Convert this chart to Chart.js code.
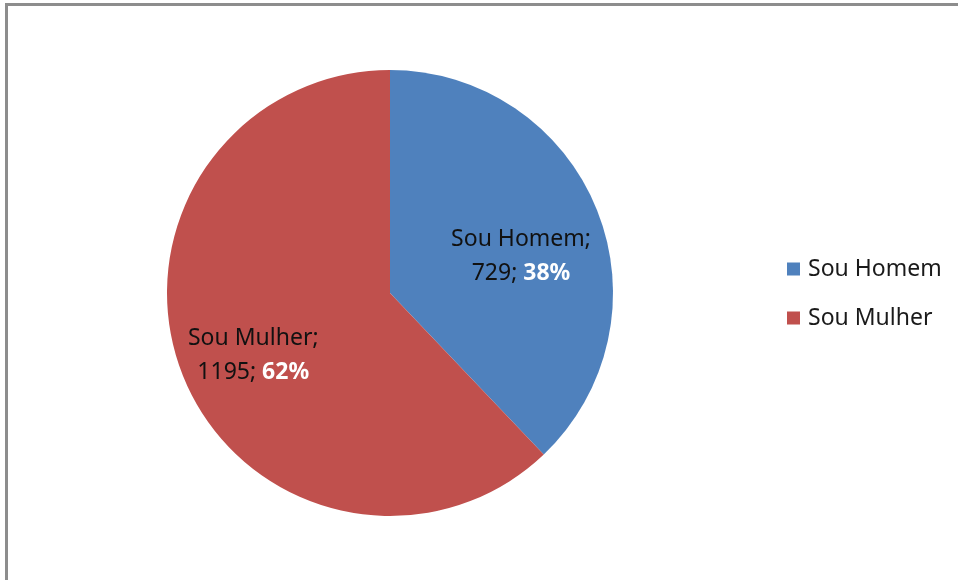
<!DOCTYPE html>
<html>
<head>
<meta charset="utf-8">
<script src="https://cdn.jsdelivr.net/npm/chart.js@4/dist/chart.umd.min.js"></script>
<style>
    html, body { margin: 0; padding: 0; background: #fff; overflow: hidden; }
    #wrap { position: relative; width: 958px; height: 580px; }
    #frame {
        position: absolute; left: 5px; top: 3px; width: 1000px; height: 700px;
        border-top: 3px solid #8d8d8d; border-left: 3px solid #8d8d8d;
        pointer-events: none;
    }
    canvas { position: absolute; left: 0; top: 0; }
</style>
</head>
<body>
<div id="wrap">
    <canvas id="chart-pie" width="958" height="580"></canvas>
    <div id="frame"></div>
</div>
<script>
const categories = ['Sou Homem', 'Sou Mulher'];
const counts = [729, 1195];
const percents = ['38%', '62%'];
const sliceColors = ['#4f81bd', '#c0504d'];

const FONT = '"Noto Sans", "Open Sans", sans-serif';

// where each data label sits: angle shift from the slice middle (deg) and fraction of radius
const labelPlacement = [
    { shift: 6.2, frac: 0.61 },
    { shift: -2.9, frac: 0.675 }
];

const pieLabels = {
    id: 'pieLabels',
    afterDatasetsDraw(chart) {
        const ctx = chart.ctx;
        const meta = chart.getDatasetMeta(0);
        ctx.save();
        ctx.textBaseline = 'middle';
        meta.data.forEach((arc, i) => {
            const p = labelPlacement[i];
            const mid = (arc.startAngle + arc.endAngle) / 2 + p.shift * Math.PI / 180;
            const cx = arc.x + Math.cos(mid) * arc.outerRadius * p.frac;
            const cy = arc.y + Math.sin(mid) * arc.outerRadius * p.frac;

            ctx.textAlign = 'center';
            ctx.fillStyle = '#111';
            ctx.font = `23px ${FONT}`;
            ctx.fillText(categories[i] + ';', cx, cy - 17);

            const first = counts[i] + '; ';
            const w1 = ctx.measureText(first).width;
            ctx.font = `bold 23px ${FONT}`;
            const w2 = ctx.measureText(percents[i]).width;
            const x0 = cx - (w1 + w2) / 2;
            ctx.textAlign = 'left';
            ctx.font = `23px ${FONT}`;
            ctx.fillStyle = '#111';
            ctx.fillText(first, x0, cy + 17);
            ctx.font = `bold 23px ${FONT}`;
            ctx.fillStyle = '#ffffff';
            ctx.fillText(percents[i], x0 + w1, cy + 17);
        });
        ctx.restore();
    }
};

const sideLegend = {
    id: 'sideLegend',
    afterDraw(chart) {
        const ctx = chart.ctx;
        ctx.save();
        ctx.font = `23px ${FONT}`;
        ctx.textBaseline = 'middle';
        ctx.textAlign = 'left';
        categories.forEach((name, i) => {
            const y = 269 + i * 49;
            ctx.fillStyle = sliceColors[i];
            ctx.fillRect(787, y - 6.5, 13, 13);
            ctx.fillStyle = '#1a1a1a';
            ctx.fillText(name, 808, y);
        });
        ctx.restore();
    }
};

function initChart() {
    const ctx = document.getElementById('chart-pie').getContext('2d');
    new Chart(ctx, {
        type: 'pie',
        data: {
            labels: categories,
            datasets: [{
                data: counts,
                backgroundColor: sliceColors,
                borderWidth: 0
            }]
        },
        options: {
            responsive: false,
            animation: false,
            layout: { padding: { top: 70, bottom: 64, left: 167, right: 345 } },
            plugins: {
                legend: { display: false },
                tooltip: { enabled: false }
            }
        },
        plugins: [pieLabels, sideLegend]
    });
}

document.addEventListener('DOMContentLoaded', initChart);
</script>
</body>
</html>
